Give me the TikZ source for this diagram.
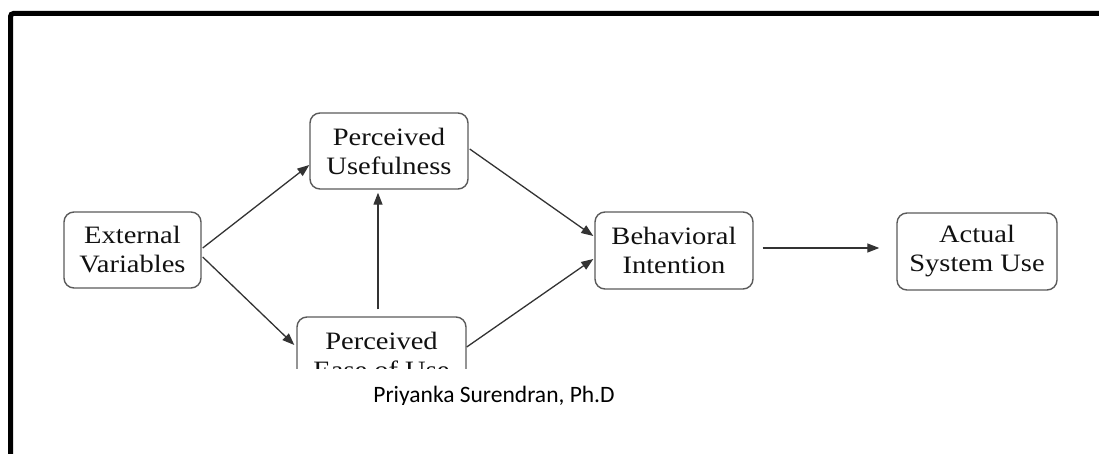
\documentclass[tikz,border=0pt]{standalone}
\usepackage{fontspec}
\setmainfont{Liberation Serif}[FakeStretch=1.14]
\newfontfamily\sigfont{Carlito}
\usetikzlibrary{arrows.meta,calc}
\definecolor{boxline}{HTML}{5A5A5A}
\definecolor{arrline}{HTML}{333333}
\definecolor{txt}{HTML}{111111}
\tikzset{
  tambox/.style={draw=boxline, line width=1.4pt, rounded corners=10pt, align=center,
    minimum height=76pt, inner sep=0pt, text=txt,
    font=\fontsize{25}{29}\selectfont},
  arr/.style={draw=arrline, line width=1.3pt, -{Triangle[length=12pt,width=9pt]}},
}
\begin{document}
\begin{tikzpicture}[x=1pt,y=-1pt]
\useasboundingbox (0,0) rectangle (1099,454);
% frame
\draw[line width=5pt, rounded corners=3pt] (10.5,460) -- (10.5,13.5) -- (1105,13.5);
% nodes
\node[tambox, minimum width=137pt] (ev) at (132.5,250) {External\\Variables};
\node[tambox, minimum width=158pt] (pu) at (389,151) {Perceived\\Usefulness};
\begin{scope}
  \clip (0,0) rectangle (1099,368);
  \node[tambox, minimum width=169pt] (peou) at (381.5,355) {Perceived\\Ease of Use};
\end{scope}
\node[tambox, minimum width=158pt, minimum height=77pt] (bi) at (674,250.5) {Behavioral\\Intention};
\node[tambox, minimum width=160pt, minimum height=77pt] (asu) at (977,251.5) {Actual\\System Use};
% connectors
\draw[arr] ([xshift=1pt,yshift=2pt]ev.east) -- ([yshift=-14pt]pu.west);
\draw[arr] ([xshift=1pt,yshift=-7pt]ev.east) -- ([xshift=-2pt,yshift=10pt]peou.west);
\draw[arr] ([xshift=-3.5pt,yshift=7pt]peou.north) -- ([xshift=-11pt,yshift=-3pt]pu.south);
\draw[arr] ([xshift=1pt,yshift=2pt]pu.east) -- ([xshift=-1pt,yshift=14.5pt]bi.west);
\draw[arr] ([yshift=8pt]peou.east) -- ([xshift=-1pt,yshift=-8.5pt]bi.west);
\draw[arr] ([xshift=9pt,yshift=2.5pt]bi.east) -- ([xshift=-17pt,yshift=3.5pt]asu.west);
% author line
\begin{scope}
  \clip (0,0) rectangle (1099,404);
  \node[anchor=base, inner sep=0pt, font=\sigfont\fontsize{23.5}{28}\selectfont, text=black] (auth) at (494,402) {Priyanka Surendran, Ph.D};
\end{scope}
\end{tikzpicture}
\end{document}
